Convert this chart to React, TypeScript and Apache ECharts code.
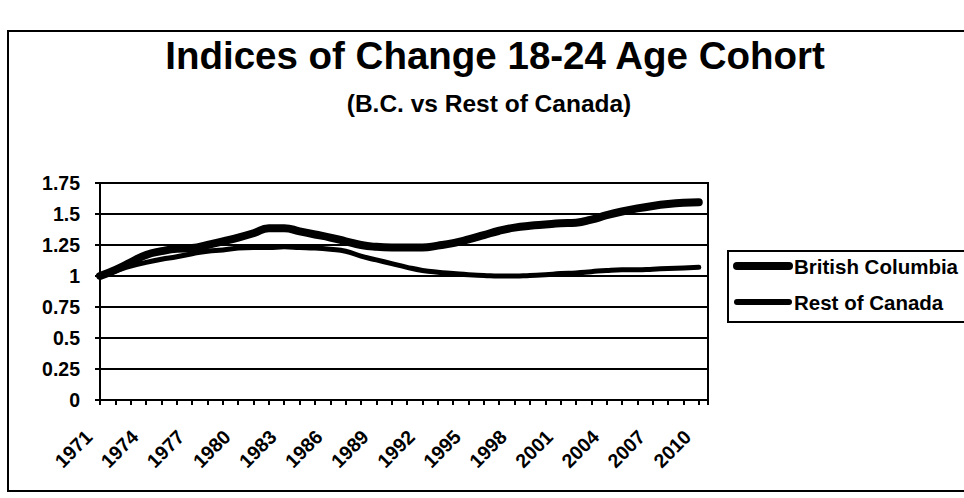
import React, { useEffect, useRef } from "react";
import * as echarts from "echarts";

const years = [
  1971, 1972, 1973, 1974, 1975, 1976, 1977, 1978, 1979, 1980,
  1981, 1982, 1983, 1984, 1985, 1986, 1987, 1988, 1989, 1990,
  1991, 1992, 1993, 1994, 1995, 1996, 1997, 1998, 1999, 2000,
  2001, 2002, 2003, 2004, 2005, 2006, 2007, 2008, 2009, 2010,
];

const britishColumbia = [
  1.0, 1.05, 1.11, 1.17, 1.2, 1.22, 1.225, 1.25, 1.28, 1.31,
  1.345, 1.385, 1.385, 1.36, 1.335, 1.31, 1.28, 1.25, 1.235, 1.23,
  1.23, 1.23, 1.245, 1.265, 1.295, 1.33, 1.365, 1.39, 1.405, 1.415,
  1.425, 1.43, 1.455, 1.49, 1.52, 1.545, 1.565, 1.58, 1.59, 1.595,
];

const restOfCanada = [
  1.0, 1.04, 1.08, 1.11, 1.135, 1.155, 1.18, 1.2, 1.21, 1.225,
  1.23, 1.23, 1.235, 1.23, 1.225, 1.215, 1.2, 1.16, 1.13, 1.1,
  1.07, 1.045, 1.03, 1.02, 1.01, 1.005, 1.0, 1.0, 1.005, 1.01,
  1.02, 1.025, 1.035, 1.045, 1.05, 1.05, 1.055, 1.06, 1.065, 1.07,
];

const seriesNames = ["British Columbia", "Rest of Canada"];
const seriesWidths = [8, 5];
const legendWidths = [8, 6];
const titleText = "Indices of Change 18-24 Age Cohort";
const subtitleText = "(B.C. vs Rest of Canada)";
const labelStep = 3;

const FONT = "'Liberation Sans', Arial, sans-serif";

export default function App() {
  const ref = useRef<HTMLDivElement>(null);
  useEffect(() => {
    if (!ref.current) return;
    const chart = echarts.init(ref.current, null, { renderer: "svg" });

    const legendItems: any[] = [];
    seriesNames.forEach((name, i) => {
      const cy = 266 + i * 36;
      legendItems.push({
        type: "line",
        shape: { x1: 737, y1: cy, x2: 789, y2: cy },
        style: { stroke: "#000", lineWidth: legendWidths[i], lineCap: "round" },
        silent: true,
      });
      legendItems.push({
        type: "text",
        x: 794,
        y: cy,
        style: {
          text: name,
          fontFamily: FONT,
          fontSize: 20.5,
          fontWeight: "bold",
          fill: "#000",
          align: "left",
          verticalAlign: "middle",
        },
        silent: true,
      });
    });

    chart.setOption({
      animation: false,
      backgroundColor: "#fff",
      textStyle: { fontFamily: FONT, color: "#000" },
      title: [
        {
          text: titleText,
          left: 490,
          top: 31,
          textAlign: "center",
          textStyle: { fontFamily: FONT, fontSize: 38.5, fontWeight: "bold", color: "#000" },
        },
        {
          text: subtitleText,
          left: 484,
          top: 86,
          textAlign: "center",
          textStyle: { fontFamily: FONT, fontSize: 24.5, fontWeight: "bold", color: "#000" },
        },
      ],
      graphic: [
        {
          type: "rect",
          shape: { x: 8, y: 31, width: 1000, height: 460 },
          style: { fill: "none", stroke: "#000", lineWidth: 2 },
          silent: true,
        },
        {
          type: "rect",
          shape: { x: 728, y: 251, width: 300, height: 71 },
          style: { fill: "none", stroke: "#000", lineWidth: 2 },
          silent: true,
        },
        ...legendItems,
      ],
      grid: {
        left: 100,
        right: 256,
        top: 183,
        bottom: 98,
        show: true,
        borderColor: "#000",
        borderWidth: 2,
        backgroundColor: "transparent",
      },
      xAxis: {
        type: "value",
        min: 1971,
        max: 2010.6,
        interval: 1,
        axisLine: { show: true, lineStyle: { color: "#000", width: 2 } },
        axisTick: { show: true, length: 5, lineStyle: { color: "#000", width: 2 } },
        splitLine: { show: false },
        axisLabel: {
          rotate: 45,
          margin: 22,
          padding: [0, 16, 0, 0],
          fontFamily: FONT,
          fontSize: 19.5,
          fontWeight: "bold",
          color: "#000",
          formatter: (v: number) =>
            Number.isInteger(v) && (v - years[0]) % labelStep === 0 ? String(v) : "",
        },
      },
      yAxis: {
        type: "value",
        min: 0,
        max: 1.75,
        interval: 0.25,
        axisLine: { show: true, lineStyle: { color: "#000", width: 2 } },
        axisTick: { show: true, length: 5, lineStyle: { color: "#000", width: 2 } },
        splitLine: { show: true, lineStyle: { color: "#000", width: 2 } },
        axisLabel: {
          margin: 20,
          fontFamily: FONT,
          fontSize: 19.5,
          fontWeight: "bold",
          color: "#000",
        },
      },
      series: [
        {
          name: seriesNames[1],
          type: "line",
          smooth: true,
          symbol: "none",
          data: years.map((y, i) => [y, restOfCanada[i]]),
          lineStyle: { width: seriesWidths[1], color: "#000", cap: "round", join: "round" },
          itemStyle: { color: "#000" },
        },
        {
          name: seriesNames[0],
          type: "line",
          smooth: true,
          symbol: "none",
          data: years.map((y, i) => [y, britishColumbia[i]]),
          lineStyle: { width: seriesWidths[0], color: "#000", cap: "round", join: "round" },
          itemStyle: { color: "#000" },
        },
      ],
    });
    return () => chart.dispose();
  }, []);
  return (
    <div
      ref={ref}
      style={{ position: "fixed", left: 0, top: 0, width: 964, height: 498 }}
    />
  );
}
